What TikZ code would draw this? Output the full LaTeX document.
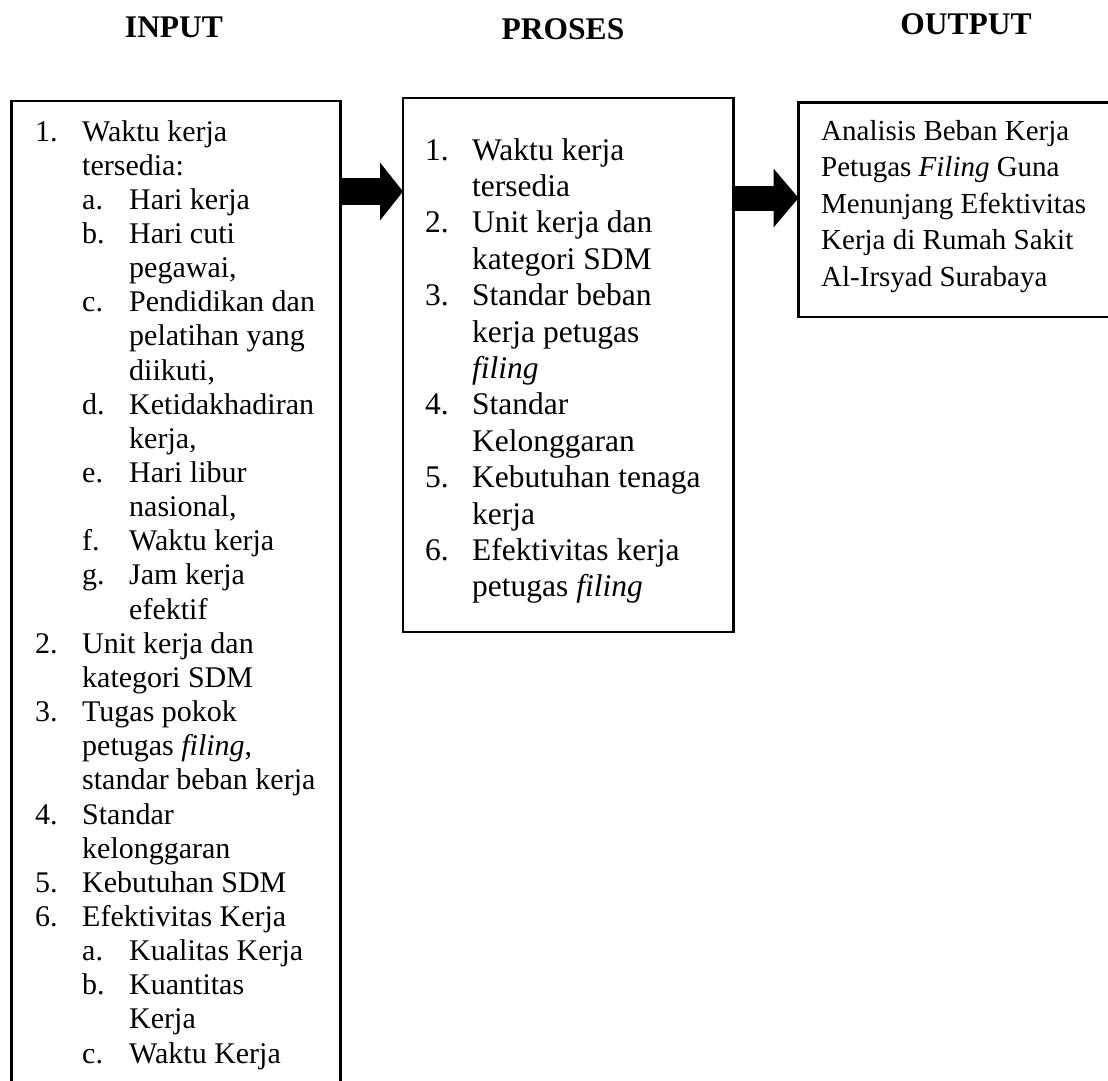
\documentclass[tikz,border=0pt]{standalone}
\usepackage{fontspec}
\setmainfont{Liberation Serif}
\usetikzlibrary{arrows.meta}
\newlength\hangw
\setlength\hangw{47pt}
\newcommand\NumA[2]{\makebox[\hangw][l]{#1}#2}
\newcommand\NumB[1]{\hspace*{\hangw}#1}
\newcommand\SubA[2]{\hspace*{\hangw}\makebox[\hangw][l]{#1}#2}
\newcommand\SubB[1]{\hspace*{2\hangw}#1}
\begin{document}
\begin{tikzpicture}[x=1pt,y=-1pt,
  box/.style={draw, line width=2.4pt, inner sep=0pt, outer sep=0pt, anchor=north west},
  head/.style={font=\fontsize{31.5}{36}\bfseries\selectfont, anchor=base, inner sep=0pt},
  txt/.style={anchor=base west, inner sep=0pt, align=left},
  blockarrow/.style={line width=#1, draw=black}
]
\clip (0,0) rectangle (1108,1081);
\fill[white] (0,0) rectangle (1108,1081);

% headers
\node[head] (hin) at (174,38) {INPUT};
\node[head] (hpro) at (563,40) {PROSES};
\node[head] (hout) at (966,35) {OUTPUT};

% boxes
\node[box, minimum width=329pt, minimum height=1000pt] (inbox) at (11.5,101) {};
\node[box, minimum width=330.5pt, minimum height=534pt] (procbox) at (403,98) {};
\node[box, minimum width=330pt, minimum height=214.5pt] (outbox) at (798.5,102.5) {};

% input text
\node[txt] (intext) at (35,141) {\fontsize{30}{34.15}\selectfont\lineskiplimit=-100pt\parbox[t]{320pt}{%
\NumA{1.}{Waktu kerja}\\
\NumB{tersedia:}\\
\SubA{a.}{Hari kerja}\\
\SubA{b.}{Hari cuti}\\
\SubB{pegawai,}\\
\SubA{c.}{Pendidikan dan}\\
\SubB{pelatihan yang}\\
\SubB{diikuti,}\\
\SubA{d.}{Ketidakhadiran}\\
\SubB{kerja,}\\
\SubA{e.}{Hari libur}\\
\SubB{nasional,}\\
\SubA{f.}{Waktu kerja}\\
\SubA{g.}{Jam kerja}\\
\SubB{efektif}\\
\NumA{2.}{Unit kerja dan}\\
\NumB{kategori SDM}\\
\NumA{3.}{Tugas pokok}\\
\NumB{petugas \textit{filing},}\\
\NumB{standar beban kerja}\\
\NumA{4.}{Standar}\\
\NumB{kelonggaran}\\
\NumA{5.}{Kebutuhan SDM}\\
\NumA{6.}{Efektivitas Kerja}\\
\SubA{a.}{Kualitas Kerja}\\
\SubA{b.}{Kuantitas}\\
\SubB{Kerja}\\
\SubA{c.}{Waktu Kerja}}};

% process text
\node[txt] (proctext) at (425,160) {\fontsize{31.5}{36.4}\selectfont\lineskiplimit=-100pt\parbox[t]{320pt}{%
\NumA{1.}{Waktu kerja}\\
\NumB{tersedia}\\
\NumA{2.}{Unit kerja dan}\\
\NumB{kategori SDM}\\
\NumA{3.}{Standar beban}\\
\NumB{kerja petugas}\\
\NumB{\textit{filing}}\\
\NumA{4.}{Standar}\\
\NumB{Kelonggaran}\\
\NumA{5.}{Kebutuhan tenaga}\\
\NumB{kerja}\\
\NumA{6.}{Efektivitas kerja}\\
\NumB{petugas \textit{filing}}}};

% output text
\node[txt] (outtext) at (821,140) {\fontsize{29}{36.5}\selectfont\lineskiplimit=-100pt\parbox[t]{320pt}{%
Analisis Beban Kerja\\
Petugas \textit{Filing} Guna\\
Menunjang Efektivitas\\
Kerja di Rumah Sakit\\
Al-Irsyad Surabaya}};

% block arrows
\draw[blockarrow=27pt, -{Triangle[length=23pt, width=58pt, line width=0pt]}]
  (inbox.east |- 0,191.5) -- (procbox.west |- 0,191.5);
\draw[blockarrow=25pt, -{Triangle[length=25pt, width=59pt, line width=0pt]}]
  (procbox.east |- 0,198) -- (outbox.west |- 0,198);
\end{tikzpicture}
\end{document}
